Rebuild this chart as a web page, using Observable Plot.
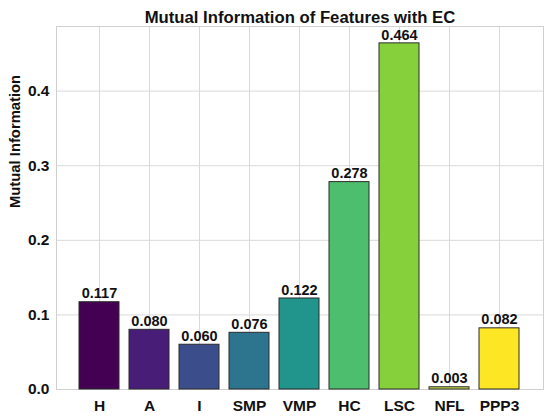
<!DOCTYPE html>
<html>
<head>
<meta charset="utf-8">
<script src="https://cdn.jsdelivr.net/npm/d3@7"></script>
<script src="https://cdn.jsdelivr.net/npm/@observablehq/plot@0.6"></script>
<style>
  html, body { margin: 0; padding: 0; background: #fff; }
  svg { font-family: "Liberation Sans", Arial, sans-serif; }
</style>
</head>
<body>
<div id="chart"></div>
<script>
const features = ["H", "A", "I", "SMP", "VMP", "HC", "LSC", "NFL", "PPP3"];
const miValues = [0.117, 0.080, 0.060, 0.076, 0.122, 0.278, 0.464, 0.003, 0.082];
const yTicks = [0, 0.1, 0.2, 0.3, 0.4];
const palette = ["#440154", "#481d78", "#3b4e8b", "#2d758f", "#21948b", "#4dbe6d", "#86d03c", "#c4d94a", "#fde725"];

const data = features.map((f, i) => ({feature: f, value: miValues[i]}));

const chart = Plot.plot({
  width: 550,
  height: 418,
  marginLeft: 56,
  marginRight: 7,
  marginTop: 26,
  marginBottom: 29,
  style: {fontFamily: "Liberation Sans, Arial, sans-serif", background: "#fff"},
  x: {domain: features, padding: 0.2, paddingOuter: 0.44, label: null},
  y: {domain: [0, 0.4866], label: null},
  color: {type: "ordinal", domain: features, range: palette},
  marks: [
    Plot.gridY(yTicks, {stroke: "#d9d9d9", strokeOpacity: 1, strokeWidth: 1}),
    Plot.gridX(features, {stroke: "#d9d9d9", strokeOpacity: 1, strokeWidth: 1}),
    Plot.frame({stroke: "#d0d0d0", strokeWidth: 1}),
    Plot.barY(data, {x: "feature", y: "value", fill: "feature", stroke: "#2b2b2b", strokeWidth: 1}),
    Plot.text(data, {x: "feature", y: "value", text: d => d.value.toFixed(3), dy: -8.5, fontSize: 14.5, fontWeight: "bold", fill: "#111"}),
    Plot.axisY(yTicks, {tickSize: 0, tickPadding: 7, tickFormat: d3.format(".1f"), fontSize: 15.5, fontWeight: "bold", fill: "#111", label: null}),
    Plot.axisX({tickSize: 0, tickPadding: 10, fontSize: 15.5, fontWeight: "bold", fill: "#111", label: null}),
    Plot.text(["Mutual Information of Features with EC"], {frameAnchor: "top", dy: -15.5, fontSize: 16.7, fontWeight: "bold", fill: "#111"}),
    Plot.text(["Mutual Information"], {frameAnchor: "left", dx: -41, rotate: -90, fontSize: 14.8, fontWeight: "bold", fill: "#111"})
  ]
});
document.getElementById("chart").appendChild(chart);
</script>
</body>
</html>
